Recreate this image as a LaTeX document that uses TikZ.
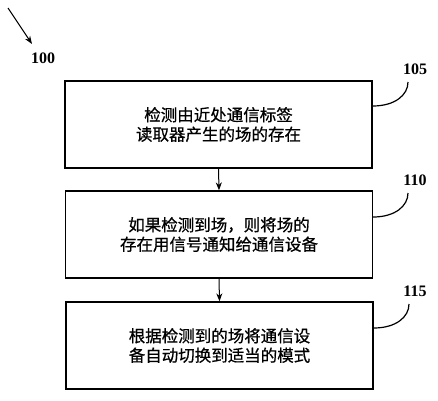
\documentclass[tikz,border=0pt]{standalone}
\usepackage{fontspec}
\newfontfamily\cjk[FakeBold=0.7]{Noto Sans CJK SC}
\newfontfamily\lbl{Liberation Serif}
\usetikzlibrary{arrows.meta}
\begin{document}
\begin{tikzpicture}[x=1pt,y=-1pt,
  stepbox/.style={draw,line width=1.3pt,minimum width=307pt,minimum height=87pt,inner sep=0pt,align=center,font=\cjk\fontsize{16.5}{19.5}\selectfont},
  reflabel/.style={font=\lbl\bfseries\fontsize{16}{16}\selectfont},
  flow/.style={line width=1pt,-{Stealth[length=8pt,width=6pt]}},
  leader/.style={line width=1.2pt}]
\useasboundingbox (0,0) rectangle (438,400);
\node[stepbox] (b1) at (218.5,124.5) {检测由近处通信标签\\读取器产生的场的存在};
\node[stepbox] (b2) at (219,234.5) {如果检测到场，则将场的\\存在用信号通知给通信设备};
\node[stepbox] (b3) at (219.5,345.5) {根据检测到的场将通信设\\备自动切换到适当的模式};
\draw[flow] (b1.south) -- (b2.north);
\draw[flow] (b2.south) -- (b3.north);
\node[reflabel] (l100) at (43,58) {100};
\coordinate (a0) at (8,8);
\coordinate (a1) at (32,44);
\draw[flow] (a0) -- (a1);
\node[reflabel] (l105) at (415,69) {105};
\node[reflabel] (l110) at (415,180) {110};
\node[reflabel] (l115) at (415,291) {115};
\coordinate (c105) at (408,82);
\coordinate (c110) at (408,193);
\coordinate (c115) at (409,304);
\draw[leader] (b1.east |- 0,106) .. controls (395,106) and (408,95) .. (c105);
\draw[leader] (b2.east |- 0,217) .. controls (395,217) and (408,206) .. (c110);
\draw[leader] (b3.east |- 0,328) .. controls (396,328) and (409,317) .. (c115);
\end{tikzpicture}
\end{document}
